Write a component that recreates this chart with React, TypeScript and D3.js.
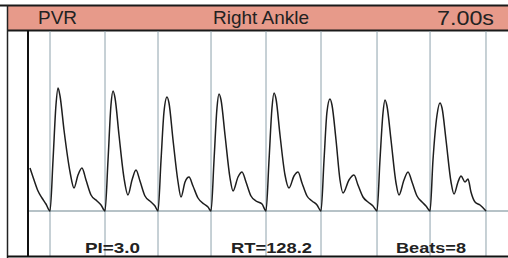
import React from "react";
import * as d3 from "d3";

// header / footer text
const modeLabel = "PVR";
const siteLabel = "Right Ankle";
const durationLabel = "7.00s";
const statLabels = ["PI=3.0", "RT=128.2", "Beats=8"];

// beat onsets (s) - gridlines drawn at each one
const beatOnsets = [0.321, 1.123, 1.896, 2.669, 3.471, 4.273, 5.09, 5.863, 6.679];

// waveform samples [time s, amplitude]
const tail0 = [
  [0.029, 4.3], [0.088, 3.1], [0.146, 2.0], [0.204, 1.3], [0.262, 0.7], [0.321, 0],
];
const beat1 = [
  [0.365, 5.1], [0.408, 10.6], [0.438, 12.3], [0.467, 11.5], [0.525, 8.1], [0.613, 3.9],
  [0.671, 2.3], [0.729, 3.6], [0.787, 4.3], [0.846, 3.1], [0.919, 1.6], [1.006, 1.0],
  [1.065, 0.6], [1.123, 0],
];
const beat2 = [
  [1.167, 5.1], [1.21, 10.6], [1.24, 12.0], [1.269, 11.3], [1.327, 7.6], [1.4, 3.3],
  [1.458, 1.6], [1.517, 3.1], [1.575, 4.1], [1.633, 3.0], [1.706, 1.5], [1.794, 0.9],
  [1.852, 0.5], [1.896, 0],
];
const beat3 = [
  [1.94, 5.1], [1.983, 9.9], [2.027, 11.4], [2.056, 10.8], [2.115, 7.1], [2.188, 2.9],
  [2.231, 1.4], [2.29, 2.9], [2.348, 3.4], [2.406, 2.5], [2.479, 1.3], [2.567, 0.7],
  [2.625, 0.4], [2.669, 0],
];
const beat4 = [
  [2.713, 5.1], [2.756, 10.3], [2.785, 11.7], [2.815, 11.1], [2.873, 7.6], [2.946, 3.3],
  [2.99, 2.0], [3.063, 3.4], [3.121, 3.9], [3.179, 2.9], [3.252, 1.5], [3.325, 1.0],
  [3.413, 0.7], [3.471, 0],
];
const beat5 = [
  [3.515, 5.1], [3.558, 10.3], [3.588, 11.8], [3.617, 11.2], [3.675, 7.6], [3.748, 3.6],
  [3.806, 2.3], [3.879, 3.5], [3.938, 3.9], [3.996, 2.8], [4.069, 1.5], [4.142, 1.0],
  [4.215, 0.6], [4.273, 0],
];
const beat6 = [
  [4.317, 5.1], [4.36, 9.9], [4.404, 11.2], [4.433, 10.6], [4.492, 7.1], [4.55, 3.1],
  [4.594, 1.8], [4.681, 3.1], [4.754, 3.6], [4.812, 2.6], [4.885, 1.4], [4.958, 0.9],
  [5.031, 0.5], [5.09, 0],
];
const beat7 = [
  [5.133, 5.1], [5.177, 9.8], [5.206, 11.1], [5.235, 10.5], [5.294, 7.1], [5.367, 2.8],
  [5.41, 1.6], [5.483, 3.1], [5.542, 3.9], [5.6, 2.9], [5.673, 1.5], [5.746, 0.9],
  [5.804, 0.5], [5.863, 0],
];
const beat8 = [
  [5.906, 5.1], [5.965, 9.6], [6.008, 10.8], [6.038, 10.3], [6.096, 7.1], [6.169, 2.9],
  [6.213, 1.7], [6.271, 2.9], [6.315, 3.5], [6.373, 2.9], [6.417, 3.2], [6.46, 1.9],
  [6.519, 0.9], [6.592, 0.6], [6.679, 0],
];

const W = 508;
const H = 258;
const frame = { left: 7, top: 5, headerBottom: 30, plotLeft: 28, bottom: 256 };

export default function App() {
  const x = d3.scaleLinear().domain([0, 7]).range([frame.plotLeft, W]);
  const y = d3.scaleLinear().domain([-4.5, 18]).range([frame.bottom, frame.headerBottom + 1]);

  const trace = [...tail0, ...beat1, ...beat2, ...beat3, ...beat4, ...beat5, ...beat6, ...beat7, ...beat8];
  const line = d3
    .line<number[]>()
    .x((d) => x(d[0]))
    .y((d) => y(d[1]))
    .curve(d3.curveMonotoneX);

  // scanned print is a bit stretched sideways, so texts get fixed widths
  const statPos = [
    { x: 85, w: 55 },
    { x: 231, w: 81 },
    { x: 396, w: 70 },
  ];
  const font = "'Liberation Sans', Arial, sans-serif";

  return (
    <svg
      width={W}
      height={H}
      style={{ position: "absolute", left: 0, top: 0, background: "#fff" }}
    >
      {/* header band */}
      <rect x={frame.left} y={frame.top} width={W - frame.left} height={frame.headerBottom - frame.top} fill="#e79a8a" />
      <line x1={0} x2={W} y1={frame.top + 0.5} y2={frame.top + 0.5} stroke="#1a1a1a" strokeWidth={2} />
      <line x1={frame.left} x2={W} y1={frame.headerBottom + 0.5} y2={frame.headerBottom + 0.5} stroke="#1a1a1a" strokeWidth={2} />
      <text x={38} y={24} fontFamily={font} fontSize={18.5} fill="#222" textLength={39} lengthAdjust="spacingAndGlyphs">{modeLabel}</text>
      <text x={213} y={24} fontFamily={font} fontSize={18.5} fill="#222" textLength={96} lengthAdjust="spacingAndGlyphs">{siteLabel}</text>
      <text x={437} y={25} fontFamily={font} fontSize={19.5} fill="#222" textLength={57} lengthAdjust="spacingAndGlyphs">{durationLabel}</text>

      {/* beat gridlines */}
      {beatOnsets.map((t, i) => (
        <line key={i} x1={x(t)} x2={x(t)} y1={frame.headerBottom + 1} y2={frame.bottom} stroke="#8ea2ac" strokeWidth={1} />
      ))}

      {/* baseline */}
      <line x1={frame.plotLeft} x2={W} y1={y(0)} y2={y(0)} stroke="#6f8590" strokeWidth={1.2} />

      {/* waveform */}
      <path d={line(trace) || ""} fill="none" stroke="#1e1e1e" strokeWidth={1.5} strokeLinejoin="round" />

      {/* frame lines */}
      <line x1={frame.left + 0.5} x2={frame.left + 0.5} y1={frame.top} y2={H} stroke="#222" strokeWidth={1.5} />
      <line x1={frame.plotLeft} x2={frame.plotLeft} y1={frame.headerBottom} y2={frame.bottom} stroke="#111" strokeWidth={2} />
      <line x1={frame.left} x2={W} y1={frame.bottom + 0.5} y2={frame.bottom + 0.5} stroke="#111" strokeWidth={2} />

      {/* stats */}
      {statLabels.map((s, i) => (
        <text
          key={s}
          x={statPos[i].x}
          y={252.5}
          fontFamily={font}
          fontSize={15.5}
          fontWeight="bold"
          fill="#222"
          textLength={statPos[i].w}
          lengthAdjust="spacingAndGlyphs"
        >
          {s}
        </text>
      ))}
    </svg>
  );
}
